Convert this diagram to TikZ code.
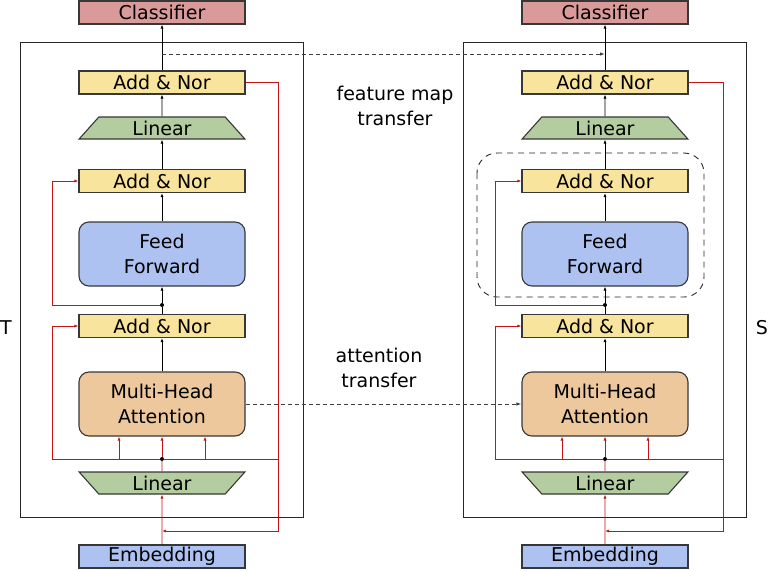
\documentclass[tikz,border=0pt]{standalone}
\usepackage{fontspec}
\setmainfont{DejaVu Sans}
\usepackage{xcolor}
\usetikzlibrary{arrows.meta, shapes.geometric}
\definecolor{clsred}{RGB}{218,154,154}
\definecolor{anyellow}{RGB}{248,228,156}
\definecolor{lingreen}{RGB}{179,205,160}
\definecolor{ffblue}{RGB}{174,194,242}
\definecolor{mhaorange}{RGB}{237,200,156}
\definecolor{resred}{RGB}{196,20,20}
\definecolor{edgegray}{RGB}{55,55,55}

\begin{document}
\begin{tikzpicture}[x=1pt, y=1pt,
    every node/.style={font=\fontsize{19}{25}\selectfont},
    blockbox/.style={draw=edgegray, line width=1.1pt, minimum width=166pt, minimum height=23pt, inner sep=0pt},
    clsbox/.style={blockbox, fill=clsred},
    anbox/.style={blockbox, fill=anyellow},
    embbox/.style={blockbox, fill=ffblue},
    ffbox/.style={blockbox, fill=ffblue, rounded corners=10pt, minimum height=64pt, align=center},
    mhabox/.style={blockbox, fill=mhaorange, rounded corners=10pt, minimum height=64pt, align=center},
    linbox/.style={draw=edgegray, line width=1.1pt, fill=lingreen, trapezium, trapezium stretches=true,
        trapezium left angle=58, trapezium right angle=58, minimum width=166pt, minimum height=22pt, inner sep=0pt},
    dot/.style={circle, fill=black, inner sep=0pt, minimum size=4pt},
    blk/.style={-{Latex[length=4pt,width=3pt]}, line width=0.9pt, black},
    res/.style={-{Latex[length=4pt,width=3pt]}, line width=0.9pt, resred},
    resline/.style={line width=0.9pt, resred},
    dsh/.style={-{Latex[length=5pt,width=3.5pt]}, line width=0.9pt, black!75, dash pattern=on 4pt off 3pt},
    frame/.style={line width=0.9pt, black!85}]
    \useasboundingbox (0,0) rectangle (768,-570);

    % teacher
    \draw[frame] (20,-42) rectangle (303,-517);
    \node[clsbox] at (162, -12.5) (tcls) {Classifier};
    \node[anbox]  at (162, -82.5) (tan3) {Add \& Nor};
    \node[linbox] at (162, -128)  (tlin2) {Linear};
    \node[anbox]  at (162, -181)  (tan2) {Add \& Nor};
    \node[ffbox]  at (162, -254)  (tff) {Feed\\Forward};
    \node[dot]    at (162, -305)  (td2) {};
    \node[anbox]  at (162, -326)  (tan1) {Add \& Nor};
    \node[mhabox] at (162, -404)  (tmha) {Multi-Head\\Attention};
    \node[dot]    at (162, -459)  (td1) {};
    \node[linbox, shape border rotate=180] at (162, -483) (tlin1) {Linear};
    \node[embbox] at (162, -556.5) (temb) {Embedding};
    \node at (6, -328) (tlab) {T};
    \coordinate (tfm) at (162, -54);
    \coordinate (tl) at (52, -459);
    \coordinate (tr) at (278, -531);
    \coordinate (tin) at (162, -531);

    \draw[blk] (tan3) -- (tcls);
    \draw[blk] (tlin2) -- (tan3);
    \draw[blk] (tan2) -- (tlin2);
    \draw[blk] (tff) -- (tan2);
    \draw[line width=0.9pt] (tan1) -- (td2);
    \draw[blk] (td2) -- (tff);
    \draw[res] (td2) -| (tl |- tan2.west) -- (tan2.west);
    \draw[blk] (tmha) -- (tan1);
    \draw[res] (td1) -| (tl |- tan1.west) -- (tan1.west);
    \draw[res] (td1) -- (tmha);
    \draw[res] ([xshift=-43pt]td1.center) -- ([xshift=-43pt]tmha.south);
    \draw[res] ([xshift=43pt]td1.center) -- ([xshift=43pt]tmha.south);
    \draw[resline] (td1) -- (td1 -| tr);
    \draw[resline] (tlin1) -- (td1);
    \draw[res] (temb) -- (tlin1);
    \draw[res] (tan3.east) -| (tr) -- (tin);

    % student
    \draw[frame] (463,-42) rectangle (746,-517);
    \draw[line width=0.9pt, black!85, dash pattern=on 6pt off 5pt, rounded corners=20pt] (477,-153) rectangle (704,-297);
    \node[clsbox] at (605, -12.5) (scls) {Classifier};
    \node[anbox]  at (605, -82.5) (san3) {Add \& Nor};
    \node[linbox] at (605, -128)  (slin2) {Linear};
    \node[anbox]  at (605, -181)  (san2) {Add \& Nor};
    \node[ffbox]  at (605, -254)  (sff) {Feed\\Forward};
    \node[dot]    at (605, -305)  (sd2) {};
    \node[anbox]  at (605, -326)  (san1) {Add \& Nor};
    \node[mhabox] at (605, -404)  (smha) {Multi-Head\\Attention};
    \node[dot]    at (605, -459)  (sd1) {};
    \node[linbox, shape border rotate=180] at (605, -483) (slin1) {Linear};
    \node[embbox] at (605, -556.5) (semb) {Embedding};
    \node at (762, -328) (slab) {S};
    \coordinate (sfm) at (605, -54);
    \coordinate (sl) at (495, -459);
    \coordinate (sr) at (723, -531);
    \coordinate (sin) at (605, -531);

    \draw[blk] (san3) -- (scls);
    \draw[blk] (slin2) -- (san3);
    \draw[blk] (san2) -- (slin2);
    \draw[blk] (sff) -- (san2);
    \draw[line width=0.9pt] (san1) -- (sd2);
    \draw[blk] (sd2) -- (sff);
    \draw[res] (sd2) -| (sl |- san2.west) -- (san2.west);
    \draw[blk] (smha) -- (san1);
    \draw[res] (sd1) -| (sl |- san1.west) -- (san1.west);
    \draw[res] (sd1) -- (smha);
    \draw[res] ([xshift=-43pt]sd1.center) -- ([xshift=-43pt]smha.south);
    \draw[res] ([xshift=43pt]sd1.center) -- ([xshift=43pt]smha.south);
    \draw[resline] (sd1) -- (sd1 -| sr);
    \draw[resline] (slin1) -- (sd1);
    \draw[res] (semb) -- (slin1);
    \draw[res] (san3.east) -| (sr) -- (sin);

    % transfers
    \draw[dsh] (tfm) -- (sfm);
    \draw[dsh] (tmha.east) -- (smha.west);
    \node[align=center] at (395, -105.5) (fmlab) {feature map\\transfer};
    \node[align=center] at (379, -367.5) (atlab) {attention\\transfer};
\end{tikzpicture}
\end{document}
